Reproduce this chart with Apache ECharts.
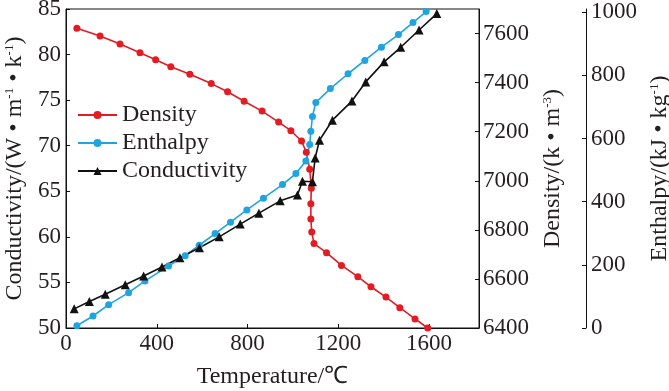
<!DOCTYPE html>
<html><head><meta charset="utf-8">
<script src="https://cdn.jsdelivr.net/npm/echarts@6/dist/echarts.min.js"></script>
<style>html,body{margin:0;padding:0;background:#fff}#c{width:669px;height:391px}</style>
</head><body><div id="c"></div>
<script>
var xTicks = [0, 400, 800, 1200, 1600];
var densityT = [48,150,238,326,395,462,546,640,712,785,864,937,991,1038,1059,1074,1081,1079,1079,1083,1093,1148,1214,1286,1344,1410,1471,1538,1594];
var densityV = [7622,7590,7557,7522,7493,7465,7434,7396,7363,7324,7284,7239,7204,7162,7116,7047,6970,6906,6844,6791,6744,6707,6655,6609,6568,6526,6483,6437,6400];
var enthalpyT = [48,119,188,276,348,452,525,587,657,725,797,870,954,1013,1057,1074,1079,1086,1101,1165,1243,1317,1390,1465,1529,1587];
var enthalpyV = [7,38,74,112,149,196,229,262,299,335,374,411,454,489,529,581,623,670,714,758,805,847,889,929,967,1002];
var condT = [36,103,173,261,342,423,502,588,675,768,850,944,1020,1042,1086,1098,1117,1174,1260,1321,1402,1475,1556,1634];
var condV = [52.1,52.9,53.7,54.75,55.7,56.7,57.7,58.8,60.0,61.4,62.6,63.95,64.6,66.1,66.05,68.65,70.6,72.8,74.9,77.0,79.2,80.8,82.7,84.5];

function pairs(a, b) { return a.map(function (v, i) { return [v, b[i]]; }); }

var FONT = 'Liberation Serif';
var FS = 24;
var LFS = 23;
var TXT = '#231f20';
var supStyle = { fontSize: 13, lineHeight: 13, verticalAlign: 'top', fontFamily: FONT, color: TXT };
var nrm = { fontSize: FS, lineHeight: FS, fontFamily: FONT, color: TXT };
var nameRich = { n: nrm, s: supStyle };
function plain(v) { return String(v); }

var RED = '#e31b23', BLUE = '#1ea5e0', BLACK = '#111111';

var chart = echarts.init(document.getElementById('c'), null, { renderer: 'canvas' });
chart.setOption({
  animation: false,
  backgroundColor: '#fff',
  textStyle: { fontFamily: FONT },
  grid: { left: 66, right: 190, top: 9, bottom: 63, show: true, borderColor: BLACK, borderWidth: 1,
    containLabel: false, outerBoundsMode: 'none' },
  legend: {
    orient: 'vertical', left: 77, top: 103, padding: 0, itemWidth: 39, itemHeight: 10, itemGap: 4,
    textStyle: { fontFamily: FONT, fontSize: FS, color: TXT, lineHeight: FS },
    data: ['Density', 'Enthalpy', 'Conductivity']
  },
  xAxis: {
    type: 'value', min: 0, max: 1820, interval: 400,
    name: 'Temperature/℃', nameLocation: 'middle', nameGap: 37,
    nameTextStyle: { fontFamily: FONT, fontSize: FS, color: TXT },
    axisLine: { lineStyle: { color: BLACK, width: 1 } },
    axisTick: { inside: true, length: 4, lineStyle: { color: BLACK } },
    axisLabel: { fontFamily: FONT, fontSize: LFS, color: TXT, margin: 4, showMaxLabel: false,
      formatter: function (v) { return xTicks.indexOf(v) >= 0 ? String(v) : ''; } },
    splitLine: { show: false }
  },
  yAxis: [
    {
      type: 'value', min: 50, max: 85, interval: 5, position: 'left',
      name: '{n|Conductivity/(W • m}{s|-1}{n| • k}{s|-1}{n|)}',
      nameLocation: 'middle', nameGap: 39, nameRotate: 90,
      nameTextStyle: { rich: nameRich },
      axisLine: { show: true, lineStyle: { color: BLACK } },
      axisTick: { inside: true, length: 4, lineStyle: { color: BLACK } },
      axisLabel: { fontFamily: FONT, fontSize: LFS, color: TXT, margin: 5, formatter: plain },
      splitLine: { show: false }
    },
    {
      type: 'value', min: 6400, max: 7700, interval: 200, position: 'right',
      name: '{n|Density/(k • m}{s|-3}{n|)}',
      nameLocation: 'middle', nameGap: 62, nameRotate: 90,
      nameTextStyle: { rich: nameRich },
      axisLine: { show: true, lineStyle: { color: BLACK } },
      axisTick: { inside: true, length: 4, lineStyle: { color: BLACK } },
      axisLabel: { fontFamily: FONT, fontSize: LFS, color: TXT, margin: 4, showMaxLabel: false, formatter: plain },
      splitLine: { show: false }
    },
    {
      type: 'value', min: 0, max: 1010, interval: 200, position: 'right', offset: 107,
      name: '{n|Enthalpy/(kJ • kg}{s|-1}{n|)}',
      nameLocation: 'middle', nameGap: 56, nameRotate: 90,
      nameTextStyle: { rich: nameRich },
      axisLine: { show: true, lineStyle: { color: BLACK } },
      axisTick: { inside: true, length: 4, lineStyle: { color: BLACK } },
      axisLabel: { fontFamily: FONT, fontSize: LFS, color: TXT, margin: 5, showMaxLabel: false, formatter: plain },
      splitLine: { show: false }
    }
  ],
  series: [
    { name: 'Density', type: 'line', yAxisIndex: 1, data: pairs(densityT, densityV),
      symbol: 'circle', symbolSize: 7, color: RED, lineStyle: { width: 1.6, color: RED },
      itemStyle: { color: RED } },
    { name: 'Enthalpy', type: 'line', yAxisIndex: 2, data: pairs(enthalpyT, enthalpyV),
      symbol: 'circle', symbolSize: 7, color: BLUE, lineStyle: { width: 1.6, color: BLUE },
      itemStyle: { color: BLUE } },
    { name: 'Conductivity', type: 'line', yAxisIndex: 0, data: pairs(condT, condV),
      symbol: 'triangle', symbolSize: 9, color: BLACK, lineStyle: { width: 1.6, color: BLACK },
      itemStyle: { color: BLACK } }
  ]
});
</script></body></html>
